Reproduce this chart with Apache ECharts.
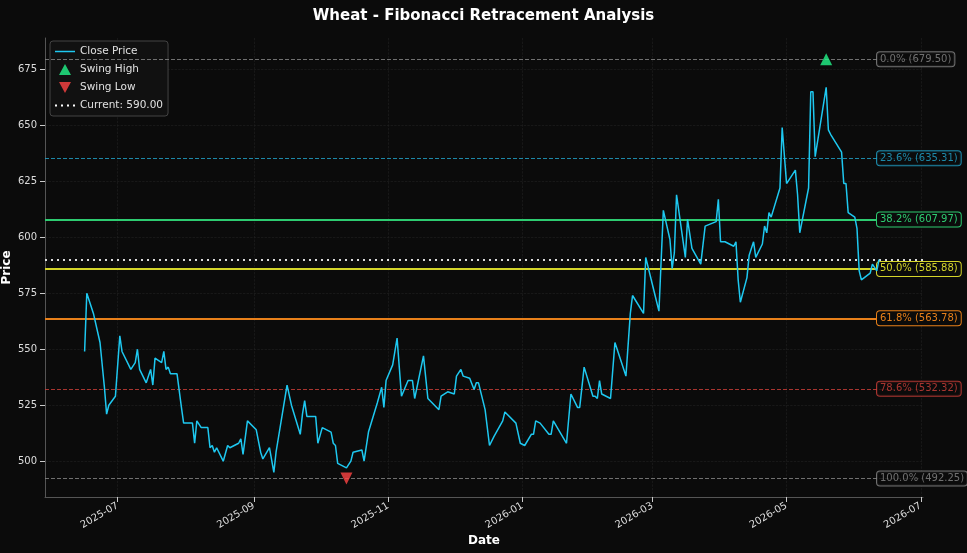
<!DOCTYPE html>
<html>
<head>
<meta charset="utf-8">
<script src="https://cdn.jsdelivr.net/npm/echarts@6/dist/echarts.min.js"></script>
<style>
  html, body { margin: 0; padding: 0; background: #0b0b0b; }
  #main { width: 967px; height: 553px; }
</style>
</head>
<body>
<div id="main"></div>
<script>
// close prices
const dates = [
  '2025-06-16','2025-06-17','2025-06-20','2025-06-23','2025-06-25','2025-06-26','2025-06-27','2025-06-30',
  '2025-07-02','2025-07-03','2025-07-07','2025-07-09','2025-07-10','2025-07-11','2025-07-14','2025-07-16',
  '2025-07-17','2025-07-18','2025-07-21','2025-07-22','2025-07-23','2025-07-24','2025-07-25','2025-07-28',
  '2025-07-30','2025-07-31','2025-08-04','2025-08-05','2025-08-06','2025-08-08','2025-08-11','2025-08-12',
  '2025-08-13','2025-08-14','2025-08-15','2025-08-18','2025-08-20','2025-08-21','2025-08-25','2025-08-26',
  '2025-08-27','2025-08-29','2025-09-02','2025-09-04','2025-09-05','2025-09-08','2025-09-10','2025-09-11',
  '2025-09-16','2025-09-18','2025-09-22','2025-09-23','2025-09-24','2025-09-25','2025-09-29','2025-09-30',
  '2025-10-02','2025-10-06','2025-10-07','2025-10-08','2025-10-09','2025-10-13','2025-10-15','2025-10-16',
  '2025-10-20','2025-10-21','2025-10-23','2025-10-27','2025-10-29','2025-10-30','2025-10-31','2025-11-03',
  '2025-11-05','2025-11-07','2025-11-10','2025-11-12','2025-11-13','2025-11-17','2025-11-19','2025-11-20',
  '2025-11-24','2025-11-25','2025-11-28','2025-12-01','2025-12-02','2025-12-04','2025-12-05','2025-12-08',
  '2025-12-10','2025-12-11','2025-12-12','2025-12-15','2025-12-17','2025-12-19','2025-12-23','2025-12-24',
  '2025-12-29','2025-12-31','2026-01-02','2026-01-05','2026-01-06','2026-01-07','2026-01-09','2026-01-13',
  '2026-01-14','2026-01-15','2026-01-21','2026-01-23','2026-01-26','2026-01-27','2026-01-29','2026-02-02',
  '2026-02-03','2026-02-04','2026-02-05','2026-02-06','2026-02-10','2026-02-12','2026-02-17','2026-02-19',
  '2026-02-20','2026-02-25','2026-02-26','2026-03-02','2026-03-04','2026-03-06','2026-03-09','2026-03-10',
  '2026-03-11','2026-03-12','2026-03-16','2026-03-17','2026-03-19','2026-03-23','2026-03-25','2026-03-30',
  '2026-03-31','2026-04-01','2026-04-03','2026-04-07','2026-04-08','2026-04-09','2026-04-10','2026-04-13',
  '2026-04-14','2026-04-16','2026-04-17','2026-04-20','2026-04-21','2026-04-22','2026-04-23','2026-04-24',
  '2026-04-28','2026-04-29','2026-05-01','2026-05-05','2026-05-06','2026-05-07','2026-05-11','2026-05-12',
  '2026-05-13','2026-05-14','2026-05-19','2026-05-20','2026-05-21','2026-05-26','2026-05-27','2026-05-28',
  '2026-05-29','2026-06-01','2026-06-02','2026-06-03','2026-06-04','2026-06-08','2026-06-09','2026-06-11',
  '2026-06-12'
];
const closes = [
  549,575,566,553,533,521,525,529,
  556,549,541,544,550,541,535,541,
  534,546,544,549,541,542,539,539,
  524,517,517,508,518,515,515,506,
  507,504,506,500,507,506,508,510,
  503,518,514,504,501,506,495,504,
  534,525,512,521,527,520,520,508,
  515,513,508,507,499,497,500,504,
  505,500,513,526,533,524,536,543,
  555,529,536,536,528,547,528,527,
  523,529,531,530,538,541,538,537,
  532,535,535,523,507,511,518,522,
  517,508,507,512,512,518,517,512,
  512,518,508,530,524,524,542,529,
  529,528,536,530,528,553,538,566,
  574,566,591,575,567,612,599,586,
  593,619,591,608,595,588,605,607,
  617,598,598,596,598,581,571,582,
  592,598,591,597,605,602,611,609,
  622,649,624,630,619,602,622,665,
  665,636,667,648,646,638,624,624,
  611,609,604,585,581,584,588,585,
  590
];

const fibNames = ['0.0%', '23.6%', '38.2%', '50.0%', '61.8%', '78.6%', '100.0%'];
const fibValues = [679.50, 635.31, 607.97, 585.88, 563.78, 532.32, 492.25];
const fibColors = ['#8a8a8a', '#22a8d0', '#2ecc71', '#d4d42a', '#e8801a', '#d0403a', '#8a8a8a'];
const fibTypes = ['dashed', 'dashed', 'solid', 'solid', 'solid', 'dashed', 'dashed'];
const fibWidths = [1, 1, 2, 2, 2, 1, 1];

const swingHigh = ['2026-05-19', 679.50];
const swingLow = ['2025-10-13', 492.25];
const currentPrice = 590.00;

const yTicks = [500, 525, 550, 575, 600, 625, 650, 675];
const xTicks = ['2025-07-01','2025-09-01','2025-11-01','2026-01-01','2026-03-01','2026-05-01','2026-07-01'];

const ts = d => Date.parse(d + 'T00:00:00Z');
const chart = echarts.init(document.getElementById('main'));

const fibLines = fibValues.map((v, i) => ({
  yAxis: v,
  lineStyle: { color: fibColors[i], type: fibTypes[i], width: fibWidths[i], opacity: fibWidths[i] > 1 ? 1 : 0.8 },
  label: {
    show: true,
    position: 'end',
    distance: -46,
    formatter: fibNames[i] + ' (' + v.toFixed(2) + ')',
    color: fibColors[i],
    fontSize: 10,
    fontFamily: 'DejaVu Sans',
    backgroundColor: '#0b0b0b',
    borderColor: fibColors[i],
    borderWidth: 1,
    borderRadius: 3,
    padding: [2, 3]
  }
}));

// corner dots keep every icon in the same 20x11 box
const box = ' M0,0 L0.05,0 L0,0.05 Z M20,11 L19.95,11 L20,10.95 Z';

const option = {
  backgroundColor: '#0b0b0b',
  animation: false,
  title: {
    text: 'Wheat - Fibonacci Retracement Analysis',
    left: 'center', top: 4,
    textStyle: { color: '#ffffff', fontSize: 15, fontWeight: 'bold', fontFamily: 'DejaVu Sans' }
  },
  legend: {
    orient: 'vertical', left: 50, top: 41,
    itemWidth: 20, itemHeight: 11, itemGap: 7,
    backgroundColor: '#111111', borderColor: '#444', borderWidth: 1, borderRadius: 3,
    padding: [5, 5],
    textStyle: { color: '#e0e0e0', fontSize: 10.5, fontFamily: 'DejaVu Sans' },
    data: [
      { name: 'Close Price', icon: 'path://M0,4.7 L20,4.7 L20,6.3 L0,6.3 Z' + box },
      { name: 'Swing High', icon: 'path://M4,11 L10,0 L16,11 Z' + box },
      { name: 'Swing Low', icon: 'path://M4,0 L16,0 L10,11 Z' + box },
      { name: 'Current: 590.00', icon: 'path://M0,4.5 L2,4.5 L2,6.5 L0,6.5 Z M6,4.5 L8,4.5 L8,6.5 L6,6.5 Z M12,4.5 L14,4.5 L14,6.5 L12,6.5 Z M18,4.5 L20,4.5 L20,6.5 L18,6.5 Z' + box }
    ]
  },
  grid: { left: 45, right: 44, top: 38, bottom: 56, containLabel: false, outerBoundsMode: 'none' },
  xAxis: {
    type: 'value',
    min: ts('2025-05-29'), max: ts('2026-07-02'),
    name: 'Date', nameLocation: 'middle', nameGap: 38, nameMoveOverlap: false,
    nameTextStyle: { color: '#ffffff', fontWeight: 'bold', fontSize: 12, fontFamily: 'DejaVu Sans' },
    axisLine: { lineStyle: { color: '#555' } },
    axisTick: { show: true, customValues: xTicks.map(ts), lineStyle: { color: '#ccc' } },
    axisLabel: {
      customValues: xTicks.map(ts),
      rotate: 30, color: '#dddddd', fontSize: 10, fontFamily: 'DejaVu Sans',
      formatter: v => { const d = new Date(v); return d.getUTCFullYear() + '-' + String(d.getUTCMonth() + 1).padStart(2, '0'); }
    },
    splitLine: { show: true, lineStyle: { color: '#222', type: 'dashed', width: 0.6 } }
  },
  yAxis: {
    type: 'value', min: 484, max: 689,
    name: 'Price', nameLocation: 'middle', nameGap: 32, nameMoveOverlap: false,
    nameTextStyle: { color: '#ffffff', fontWeight: 'bold', fontSize: 12, fontFamily: 'DejaVu Sans' },
    axisLine: { show: true, lineStyle: { color: '#555' } },
    axisTick: { show: true, customValues: yTicks, lineStyle: { color: '#ccc' } },
    axisLabel: { customValues: yTicks, color: '#dddddd', fontSize: 10, fontFamily: 'DejaVu Sans' },
    splitLine: { show: true, lineStyle: { color: '#222', type: 'dashed', width: 0.6 } }
  },
  series: [
    {
      name: 'Close Price', type: 'line', showSymbol: false,
      data: dates.map((d, i) => [ts(d), closes[i]]),
      lineStyle: { color: '#1ec8f0', width: 1.5 }, itemStyle: { color: '#1ec8f0' },
      z: 5,
      markLine: { silent: true, symbol: 'none', data: fibLines }
    },
    {
      name: 'Swing High', type: 'scatter', data: [[ts(swingHigh[0]), swingHigh[1]]],
      symbol: 'triangle', symbolSize: 12, itemStyle: { color: '#22f58a' }, z: 6
    },
    {
      name: 'Swing Low', type: 'scatter', data: [[ts(swingLow[0]), swingLow[1]]],
      symbol: 'triangle', symbolRotate: 180, symbolSize: 12, itemStyle: { color: '#ff4444' }, z: 6
    },
    {
      name: 'Current: 590.00', type: 'line', data: [],
      itemStyle: { color: '#ffffff' },
      lineStyle: { color: '#ffffff', type: 'dotted', width: 2 },
      markLine: {
        silent: true, symbol: 'none',
        data: [{ yAxis: currentPrice }],
        lineStyle: { color: '#ffffff', type: [2, 4], width: 2, opacity: 0.85 },
        label: { show: false }
      }
    }
  ]
};
chart.setOption(option);
</script>
</body>
</html>
